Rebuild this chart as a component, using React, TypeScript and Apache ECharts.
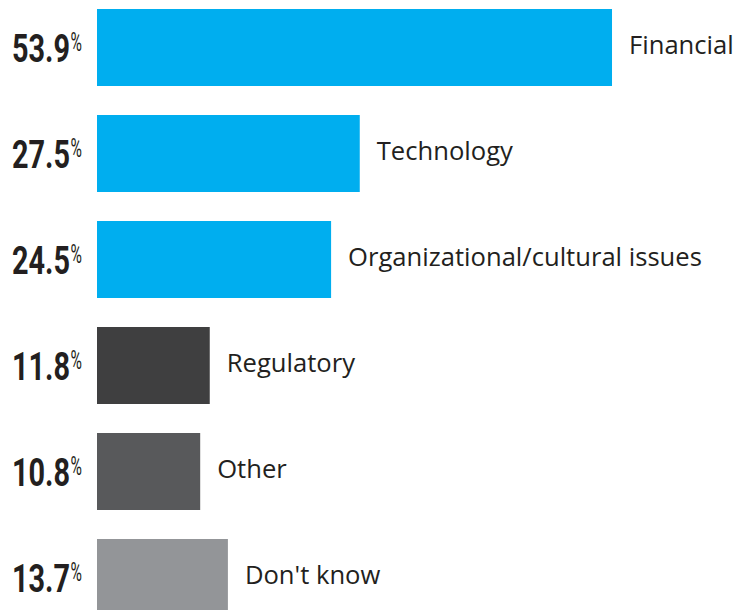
import React, { useEffect, useRef } from "react";
import * as echarts from "echarts";

const categories = [
  "Financial",
  "Technology",
  "Organizational/cultural issues",
  "Regulatory",
  "Other",
  "Don't know",
];
const values = [53.9, 27.5, 24.5, 11.8, 10.8, 13.7];
const barColors = ["#00AEEF", "#00AEEF", "#00AEEF", "#3F3F40", "#58595B", "#939598"];
const valueSuffix = "%";

export default function App() {
  const ref = useRef<HTMLDivElement>(null);
  useEffect(() => {
    if (!ref.current) return;
    const chart = echarts.init(ref.current, undefined, { renderer: "svg" });
    chart.setOption({
      animation: false,
      backgroundColor: "#ffffff",
      grid: { left: 97, top: 14.5, height: 636, width: 573.3, containLabel: false, outerBoundsMode: "none" },
      xAxis: { type: "value", min: 0, max: 60, show: false },
      yAxis: {
        type: "category",
        inverse: true,
        data: categories,
        axisLine: { show: false },
        axisTick: { show: false },
        splitLine: { show: false },
        axisLabel: { show: false },
      },
      series: [
        {
          type: "bar",
          barWidth: 77,
          data: values.map((v, i) => ({ value: v, itemStyle: { color: barColors[i] } })),
          label: {
            show: true,
            position: "right",
            distance: 17,
            offset: [0, -3],
            formatter: (p: any) => categories[p.dataIndex],
            fontFamily: "Open Sans",
            fontSize: 25.6,
            color: "#231F20",
          },
        },
      ],
    });

    const elements: any[] = [];
    categories.forEach((c, i) => {
      const cy = chart.convertToPixel({ yAxisIndex: 0 }, c) as number;
      elements.push({
        type: "text",
        x: 70,
        y: cy + 0.5,
        scaleX: 0.74,
        silent: true,
        style: {
          text: values[i].toFixed(1),
          align: "right",
          verticalAlign: "middle",
          fontFamily: "Roboto",
          fontWeight: "bold",
          fontSize: 39,
          fill: "#231F20",
        },
      });
      elements.push({
        type: "text",
        x: 82,
        y: cy - 6,
        scaleX: 0.6,
        silent: true,
        style: {
          text: valueSuffix,
          align: "right",
          verticalAlign: "middle",
          fontFamily: "Roboto",
          fontWeight: "normal",
          fontSize: 26,
          fill: "#231F20",
        },
      });
    });
    chart.setOption({ graphic: { elements } });
    return () => chart.dispose();
  }, []);
  return (
    <div style={{ position: "fixed", left: 0, top: 0, width: 739, height: 610, overflow: "hidden", background: "#fff" }}>
      <div ref={ref} style={{ position: "absolute", left: 0, top: -20, width: 739, height: 660 }} />
    </div>
  );
}
